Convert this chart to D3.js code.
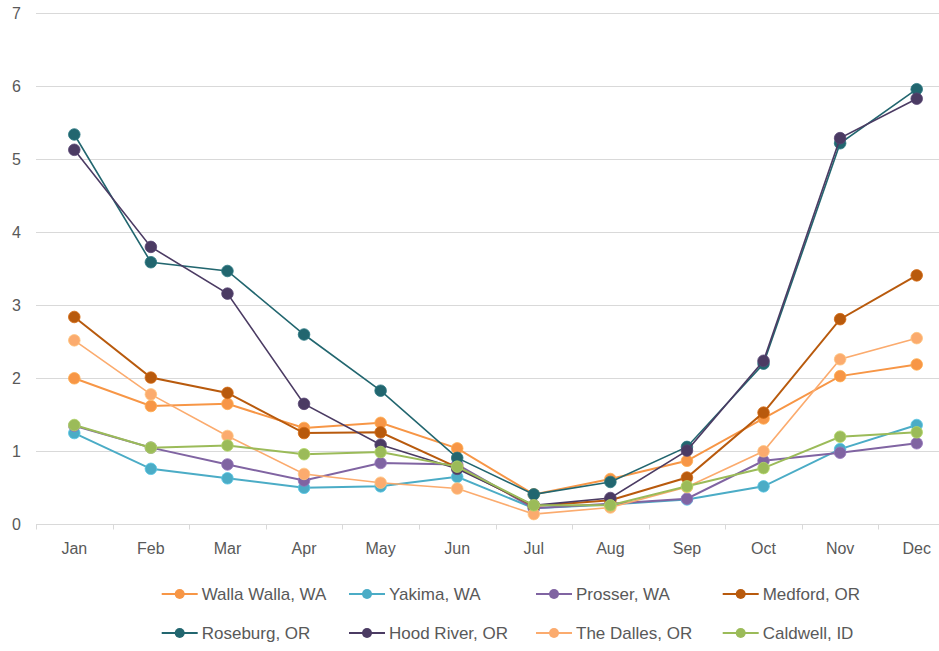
<!DOCTYPE html>
<html>
<head>
<meta charset="utf-8">
<script src="https://cdn.jsdelivr.net/npm/d3@7"></script>
<style>
  body { margin: 0; background: #fff; }
  svg { display: block; font-family: "Liberation Sans", Arial, sans-serif; }
</style>
</head>
<body>
<div id="chart"></div>
<script>
// monthly values per site
var months = ["Jan", "Feb", "Mar", "Apr", "May", "Jun", "Jul", "Aug", "Sep", "Oct", "Nov", "Dec"];
var yTicks = [0, 1, 2, 3, 4, 5, 6, 7];

var wallaWalla = [2.0, 1.62, 1.65, 1.32, 1.39, 1.04, 0.41, 0.62, 0.87, 1.45, 2.03, 2.19];
var yakima     = [1.25, 0.76, 0.63, 0.50, 0.52, 0.65, 0.22, 0.27, 0.34, 0.52, 1.03, 1.36];
var prosser    = [1.35, 1.05, 0.82, 0.60, 0.84, 0.82, 0.22, 0.28, 0.35, 0.87, 0.98, 1.11];
var medford    = [2.84, 2.01, 1.80, 1.25, 1.26, 0.78, 0.25, 0.33, 0.64, 1.53, 2.81, 3.41];
var roseburg   = [5.34, 3.59, 3.47, 2.60, 1.83, 0.91, 0.41, 0.58, 1.06, 2.20, 5.22, 5.96];
var hoodRiver  = [5.13, 3.80, 3.16, 1.65, 1.09, 0.76, 0.26, 0.36, 1.01, 2.24, 5.29, 5.83];
var theDalles  = [2.52, 1.78, 1.21, 0.69, 0.57, 0.49, 0.14, 0.23, 0.51, 1.00, 2.26, 2.55];
var caldwell   = [1.36, 1.05, 1.08, 0.96, 0.99, 0.79, 0.26, 0.26, 0.52, 0.77, 1.20, 1.26];

var seriesNames = ["Walla Walla, WA", "Yakima, WA", "Prosser, WA", "Medford, OR",
                   "Roseburg, OR", "Hood River, OR", "The Dalles, OR", "Caldwell, ID"];
var seriesValues = [wallaWalla, yakima, prosser, medford, roseburg, hoodRiver, theDalles, caldwell];
var seriesColors = ["#f79646", "#4bacc6", "#8064a2", "#b85a0d",
                    "#22666f", "#4b3b63", "#fbab6e", "#9bbb59"];
var seriesWidths = [2, 2, 2, 2, 1.6, 1.6, 1.6, 2];

var width = 939, height = 651;

var svg = d3.select("#chart").append("svg")
    .attr("width", width)
    .attr("height", height);

var x = d3.scaleBand().domain(months).range([36, 955]);
var y = d3.scaleLinear().domain([0, 7]).range([524.3, 13.3]);

// gridlines
svg.append("g")
  .selectAll("line")
  .data(yTicks.slice(1))
  .join("line")
    .attr("x1", 36).attr("x2", width)
    .attr("y1", d => Math.round(y(d)) + 0.5)
    .attr("y2", d => Math.round(y(d)) + 0.5)
    .attr("stroke", "#d9d9d9");

// y labels
svg.append("g")
  .selectAll("text")
  .data(yTicks)
  .join("text")
    .attr("x", 21)
    .attr("y", d => y(d) + 5.5)
    .attr("text-anchor", "end")
    .attr("font-size", 16)
    .attr("fill", "#595959")
    .text(d => d);

// x axis line + boundary ticks
var axisY = Math.round(y(0)) + 0.5;
svg.append("line")
    .attr("x1", 36).attr("x2", width)
    .attr("y1", axisY).attr("y2", axisY)
    .attr("stroke", "#d9d9d9");

svg.append("g")
  .selectAll("line")
  .data(months)
  .join("line")
    .attr("x1", d => Math.round(x(d)) + 0.5)
    .attr("x2", d => Math.round(x(d)) + 0.5)
    .attr("y1", axisY).attr("y2", axisY + 5)
    .attr("stroke", "#d9d9d9");

svg.append("g")
  .selectAll("text")
  .data(months)
  .join("text")
    .attr("x", d => x(d) + x.bandwidth() / 2)
    .attr("y", 554)
    .attr("text-anchor", "middle")
    .attr("font-size", 16)
    .attr("fill", "#595959")
    .text(d => d);

// lines and markers
var line = d3.line()
    .x((d, i) => x(months[i]) + x.bandwidth() / 2)
    .y(d => y(d));

seriesValues.forEach((vals, k) => {
  var g = svg.append("g");
  g.append("path")
      .attr("d", line(vals))
      .attr("fill", "none")
      .attr("stroke", seriesColors[k])
      .attr("stroke-width", seriesWidths[k]);
  g.selectAll("circle")
    .data(vals)
    .join("circle")
      .attr("cx", (d, i) => x(months[i]) + x.bandwidth() / 2)
      .attr("cy", d => y(d))
      .attr("r", 5.8)
      .attr("fill", seriesColors[k])
      .attr("stroke", d3.color(seriesColors[k]).brighter(0.4))
      .attr("stroke-width", 0.8);
});

// legend
var legendCols = [161.7, 349, 536, 722.7];
var legendRows = [594, 633];

var legend = svg.append("g")
  .selectAll("g")
  .data(seriesNames)
  .join("g")
    .attr("transform", (d, i) => `translate(${legendCols[i % 4]},${legendRows[Math.floor(i / 4)]})`);

legend.append("line")
    .attr("x1", 0).attr("x2", 36)
    .attr("stroke", (d, i) => seriesColors[i])
    .attr("stroke-width", 2);
legend.append("circle")
    .attr("cx", 18).attr("r", 5)
    .attr("fill", (d, i) => seriesColors[i]);
legend.append("text")
    .attr("x", 40)
    .attr("y", 6)
    .attr("font-size", 17)
    .attr("fill", "#595959")
    .text(d => d);
</script>
</body>
</html>
